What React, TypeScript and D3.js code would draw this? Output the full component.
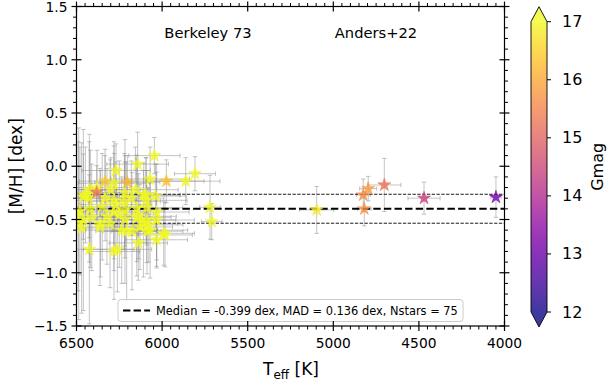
import React from "react";
import * as d3 from "d3";

// ---- data ----
const teff = [
  6045, 6143, 6269, 5808, 5862, 5975, 6203, 6333, 6281, 6070,
  6382, 6425, 6460, 6156, 6217, 6094, 6281, 6333, 6425, 6220,
  6094, 6148, 6217, 6281, 6090, 6032, 6411, 6460, 6148, 6217,
  6090, 6032, 6304, 6470, 6363, 6236, 6207, 6129, 6070, 6109,
  5983, 6032, 6139, 6425, 6281, 6261, 6448, 6107, 6039, 6419,
  6490, 6322, 6137, 6487, 6360, 6078, 6176, 6088, 5991, 6380,
  6300, 6270, 6350, 6480, 6180, 6250, 5720, 5710,
  5097, 4819, 4825, 4796, 4702, 4470, 4050,
];
const mh = [
  0.10, 0.02, -0.04, -0.07, -0.14, -0.14, -0.15, -0.14, -0.16, -0.12,
  -0.245, -0.22, -0.285, -0.22, -0.25, -0.27, -0.32, -0.30, -0.30, -0.33,
  -0.32, -0.395, -0.41, -0.43, -0.39, -0.43, -0.48, -0.505, -0.48, -0.50,
  -0.505, -0.505, -0.54, -0.58, -0.57, -0.60, -0.61, -0.57, -0.60, -0.54,
  -0.645, -0.69, -0.72, -0.78, -0.80, -0.78, -0.27, -0.27, -0.28, -0.40,
  -0.47, -0.47, -0.47, -0.54, -0.54, -0.55, -0.61, -0.61, -0.63, -0.20,
  -0.22, -0.36, -0.38, -0.42, -0.30, -0.45, -0.385, -0.52,
  -0.41, -0.40, -0.27, -0.21, -0.176, -0.30, -0.29,
];
const teffErr = [
  150, 180, 200, 120, 200, 220, 190, 150, 210, 230,
  150, 160, 200, 250, 180, 200, 220, 170, 190, 210,
  240, 200, 230, 180, 210, 190, 220, 230, 200, 180,
  170, 220, 190, 250, 200, 210, 180, 190, 220, 200,
  160, 180, 170, 260, 150, 200, 200, 210, 180, 230,
  200, 180, 220, 210, 190, 200, 170, 210, 180, 200,
  190, 210, 200, 220, 190, 200, 60, 60,
  100, 40, 40, 50, 97, 94, 30,
];
const mhErr = [
  0.17, 0.30, 0.25, 0.16, 0.22, 0.20, 0.25, 0.30, 0.35, 0.30,
  0.25, 0.45, 0.40, 0.40, 0.50, 0.35, 0.55, 0.40, 0.60, 0.45,
  0.40, 0.50, 0.45, 0.55, 0.35, 0.45, 0.50, 0.85, 0.55, 0.60,
  0.40, 0.45, 0.60, 0.80, 0.55, 0.50, 0.65, 0.40, 0.45, 0.50,
  0.30, 0.25, 0.35, 0.70, 0.45, 0.40, 0.45, 0.30, 0.30, 0.55,
  0.70, 0.45, 0.40, 0.90, 0.50, 0.35, 0.55, 0.40, 0.30, 0.35,
  0.30, 0.40, 0.50, 0.60, 0.35, 0.50, 0.30, 0.17,
  0.22, 0.16, 0.15, 0.115, 0.25, 0.15, 0.19,
];
const gmag = [
  17.5, 17.6, 17.4, 17.2, 17.3, 16.3, 16.2, 16.4, 17.8, 17.5,
  15.3, 17.9, 17.7, 17.4, 17.6, 17.3, 17.8, 17.5, 18.0, 17.6,
  17.4, 17.7, 17.9, 17.5, 17.3, 17.6, 17.8, 18.1, 17.5, 17.7,
  17.4, 17.6, 17.9, 18.2, 17.8, 17.6, 17.5, 17.6, 17.7, 17.4,
  17.3, 17.5, 17.8, 18.0, 17.9, 17.6, 17.7, 17.5, 17.6, 18.0,
  18.1, 17.6, 17.5, 18.3, 17.8, 17.4, 17.7, 17.6, 17.3, 17.6,
  17.4, 17.7, 17.8, 18.0, 17.5, 17.6, 17.2, 17.2,
  16.8, 15.7, 15.6, 15.8, 15.2, 14.4, 13.2,
];
const medianMH = -0.399;
const madMH = 0.136;
const xTicks = [6500, 6000, 5500, 5000, 4500, 4000];
const yTicks = [-1.5, -1.0, -0.5, 0.0, 0.5, 1.0, 1.5];
const cbTicks = [12, 13, 14, 15, 16, 17];
const legendText = "Median = -0.399 dex, MAD = 0.136 dex, Nstars = 75";
const clusterLabel = "Berkeley 73";
const refLabel = "Anders+22";

const W = 611, H = 382;
const L = 76.5, R = 504.5, T = 6.5, B = 326;
const FONT = "DejaVu Sans, sans-serif";

export default function App() {
  const x = d3.scaleLinear().domain([6500, 4000]).range([L, R]);
  const y = d3.scaleLinear().domain([-1.5, 1.5]).range([B, T]);
  const cmin = 12, cmax = 17;
  const color = (g: number) => d3.interpolatePlasma(Math.max(0, Math.min(1, (g - cmin) / (cmax - cmin))));
  const star = d3.symbol(d3.symbolStar, 54)()!;

  const xMinor = d3.range(4000, 6501, 50).filter((v) => v % 500 !== 0);
  const yMinor = d3.range(-15, 16, 1).filter((v) => v % 5 !== 0).map((v) => v / 10);

  const idx = d3.range(teff.length).sort((a, b) => gmag[b] - gmag[a]);

  // colorbar
  const cbL = 531, cbR = 547;
  const cy = d3.scaleLinear().domain([cmin, cmax]).range([312, 21.7]);
  const cbTop = cy(cmax), cbBot = cy(cmin);
  const stops = d3.range(0, 1.0001, 0.05);

  const cap = 2.2;
  const tickStroke = { stroke: "#000", strokeWidth: 1 };

  return (
    <svg width={W} height={H} style={{ position: "absolute", left: 0, top: 0, background: "#fff" }} fontFamily={FONT}>
      <defs>
        <clipPath id="plotclip">
          <rect x={L} y={T} width={R - L} height={B - T} />
        </clipPath>
        <linearGradient id="cbgrad" x1="0" y1="1" x2="0" y2="0">
          {stops.map((s) => (
            <stop key={s} offset={s} stopColor={d3.interpolatePlasma(s)} />
          ))}
        </linearGradient>
      </defs>

      <g clipPath="url(#plotclip)">
        {/* error bars */}
        {idx.map((i) => {
          const px = x(teff[i]), py = y(mh[i]);
          const x0 = x(teff[i] + teffErr[i]), x1 = x(teff[i] - teffErr[i]);
          const y0 = y(mh[i] + mhErr[i]), y1 = y(mh[i] - mhErr[i]);
          return (
            <g key={"e" + i} stroke="#8c8c8c" strokeOpacity={0.5} strokeWidth={1} fill="none">
              <line x1={x0} x2={x1} y1={py} y2={py} />
              <line x1={px} x2={px} y1={y0} y2={y1} />
              <line x1={x0} x2={x0} y1={py - cap} y2={py + cap} />
              <line x1={x1} x2={x1} y1={py - cap} y2={py + cap} />
              <line x1={px - cap} x2={px + cap} y1={y0} y2={y0} />
              <line x1={px - cap} x2={px + cap} y1={y1} y2={y1} />
            </g>
          );
        })}
        {/* median lines */}
        <line x1={L} x2={R} y1={y(medianMH)} y2={y(medianMH)} stroke="#000" strokeWidth={2} strokeDasharray="7.4,3.2" />
        <line x1={L} x2={R} y1={y(medianMH + madMH)} y2={y(medianMH + madMH)} stroke="#000" strokeWidth={0.9} strokeDasharray="3.3,1.5" />
        <line x1={L} x2={R} y1={y(medianMH - madMH)} y2={y(medianMH - madMH)} stroke="#000" strokeWidth={0.9} strokeDasharray="3.3,1.5" />
        {/* stars */}
        {idx.map((i) => (
          <path
            key={"s" + i}
            d={star}
            transform={`translate(${x(teff[i])},${y(mh[i])})`}
            fill={color(gmag[i])}
            fillOpacity={0.8}
            stroke={color(gmag[i])}
            strokeOpacity={0.8}
            strokeWidth={0.6}
          />
        ))}
      </g>

      {/* annotations */}
      <text x={208} y={38} fontSize={14.7} textAnchor="middle">{clusterLabel}</text>
      <text x={376} y={38} fontSize={14.7} textAnchor="middle">{refLabel}</text>

      {/* legend */}
      <rect x={118} y={299.5} width={345} height={22} rx={3} fill="#fff" fillOpacity={0.8} stroke="#cccccc" strokeWidth={1} />
      <line x1={123} x2={150} y1={310.5} y2={310.5} stroke="#000" strokeWidth={2} strokeDasharray="7.4,3.2" />
      <text x={156} y={314.7} fontSize={11.4}>{legendText}</text>

      {/* frame */}
      <rect x={L} y={T} width={R - L} height={B - T} fill="none" stroke="#000" strokeWidth={1.2} />

      {/* x ticks bottom & top */}
      {xTicks.map((v) => (
        <g key={"xt" + v}>
          <line x1={x(v)} x2={x(v)} y1={B - 5} y2={B + 5} {...tickStroke} strokeWidth={1.2} />
          <line x1={x(v)} x2={x(v)} y1={T - 5} y2={T + 5} {...tickStroke} strokeWidth={1.2} />
          <text x={x(v)} y={348} fontSize={13.8} textAnchor="middle">{String(v)}</text>
        </g>
      ))}
      {xMinor.map((v) => (
        <g key={"xm" + v}>
          <line x1={x(v)} x2={x(v)} y1={B} y2={B + 3.5} {...tickStroke} />
          <line x1={x(v)} x2={x(v)} y1={T} y2={T - 3.5} {...tickStroke} />
        </g>
      ))}
      {/* y ticks left & right */}
      {yTicks.map((v) => (
        <g key={"yt" + v}>
          <line x1={L - 5} x2={L + 5} y1={y(v)} y2={y(v)} {...tickStroke} strokeWidth={1.2} />
          <line x1={R - 5} x2={R + 5} y1={y(v)} y2={y(v)} {...tickStroke} strokeWidth={1.2} />
          <text x={L - 9} y={y(v)} fontSize={13.8} textAnchor="end" dominantBaseline="central">
            {v < 0 ? "\u2212" + Math.abs(v).toFixed(1) : v.toFixed(1)}
          </text>
        </g>
      ))}
      {yMinor.map((v) => (
        <g key={"ym" + v}>
          <line x1={L - 3.5} x2={L} y1={y(v)} y2={y(v)} {...tickStroke} />
          <line x1={R} x2={R + 3.5} y1={y(v)} y2={y(v)} {...tickStroke} />
        </g>
      ))}

      {/* axis labels */}
      <text x={291} y={375} fontSize={17} textAnchor="middle">
        T<tspan fontSize={12} dy={4}>eff</tspan>
        <tspan dy={-4}> [K]</tspan>
      </text>
      <text transform={`translate(16,${(T + B) / 2}) rotate(-90)`} fontSize={17} textAnchor="middle" dominantBaseline="central">
        [M/H] [dex]
      </text>

      {/* colorbar */}
      <g>
        <rect x={cbL} y={cbTop} width={cbR - cbL} height={cbBot - cbTop} fill="url(#cbgrad)" fillOpacity={0.8} />
        <path d={`M${cbL},${cbTop} L${(cbL + cbR) / 2},${cbTop - 15} L${cbR},${cbTop} Z`} fill={d3.interpolatePlasma(1)} fillOpacity={0.8} />
        <path d={`M${cbL},${cbBot} L${(cbL + cbR) / 2},${cbBot + 15} L${cbR},${cbBot} Z`} fill={d3.interpolatePlasma(0)} fillOpacity={0.8} />
        <path
          d={`M${cbL},${cbTop} L${(cbL + cbR) / 2},${cbTop - 15} L${cbR},${cbTop} L${cbR},${cbBot} L${(cbL + cbR) / 2},${cbBot + 15} L${cbL},${cbBot} Z`}
          fill="none"
          stroke="#000"
          strokeWidth={0.9}
        />
        {cbTicks.map((v) => (
          <g key={"cb" + v}>
            <line x1={cbR} x2={cbR + 4} y1={cy(v)} y2={cy(v)} stroke="#000" strokeWidth={1} />
            <text x={cbR + 15} y={cy(v)} fontSize={16} dominantBaseline="central">{String(v)}</text>
          </g>
        ))}
        <text transform={`translate(597,${(cbTop + cbBot) / 2}) rotate(-90)`} fontSize={16} textAnchor="middle" dominantBaseline="central">
          Gmag
        </text>
      </g>
    </svg>
  );
}
